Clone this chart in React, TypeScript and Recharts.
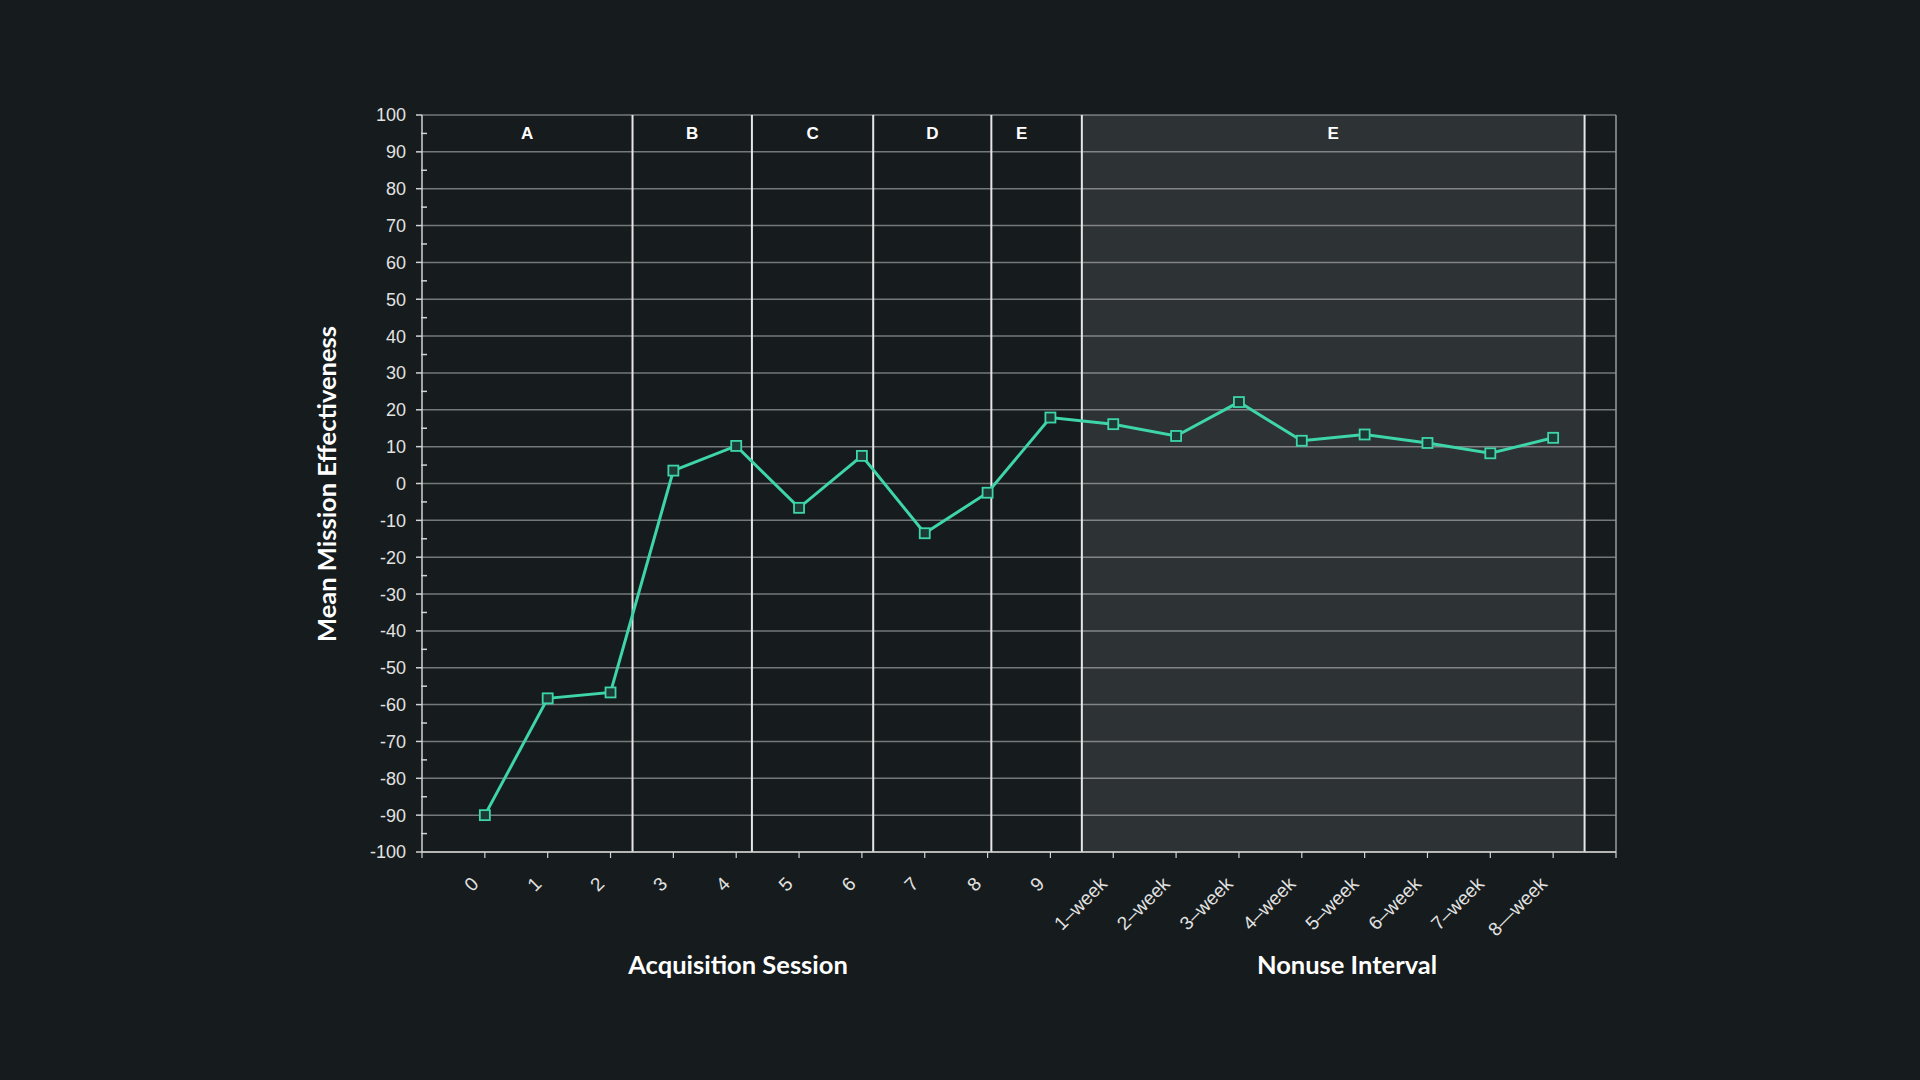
import { LineChart, Line, XAxis, YAxis, CartesianGrid, ReferenceArea, ReferenceLine } from "recharts";

// sessions 0-9, then the nonuse weeks
const categories = ["0", "1", "2", "3", "4", "5", "6", "7", "8", "9", "1–week", "2–week", "3–week", "4–week", "5–week", "6–week", "7–week", "8—week"];
const effectiveness = [-90, -58.3, -56.7, 3.5, 10.2, -6.6, 7.5, -13.5, -2.5, 17.9, 16.1, 12.9, 22.1, 11.6, 13.3, 11, 8.2, 12.4];

// phase labels and the category positions of the dividers between them
const phaseLabels = ["A", "B", "C", "D", "E", "E"];
const phaseBounds = [-1, 2.35, 4.25, 6.18, 8.06, 9.5, 17.5];

const xTicks = [-1, 0, 1, 2, 3, 4, 5, 6, 7, 8, 9, 10, 11, 12, 13, 14, 15, 16, 17, 18];
const yMajor = [-100, -90, -80, -70, -60, -50, -40, -30, -20, -10, 0, 10, 20, 30, 40, 50, 60, 70, 80, 90, 100];
const yMinor = [-95, -85, -75, -65, -55, -45, -35, -25, -15, -5, 5, 15, 25, 35, 45, 55, 65, 75, 85, 95];

const BG = "#161b1d";
const TEAL = "#3dd5a9";
const AXIS = "#d2d2d2";
const TICK_FONT = '"Liberation Sans", Arial, sans-serif';
const TITLE_FONT = 'Lato, "Noto Sans", sans-serif';

const rows = categories.map((label, i) => ({ idx: i, label, value: effectiveness[i] }));

function XTick(props: any) {
  const { x, y, payload } = props;
  const label = categories[payload.value];
  if (label === undefined) return null;
  const ax = x - 5;
  const ay = y + 25;
  return (
    <text x={ax} y={ay} textAnchor="end" fill="#e2e2e2" fontSize={19} fontFamily={TICK_FONT} transform={`rotate(-45, ${ax}, ${ay})`}>
      {label}
    </text>
  );
}

function YTick(props: any) {
  const { x, y, payload } = props;
  const axisX = x + 16;
  const major = payload.value % 10 === 0;
  if (!major) return <line x1={axisX - 1} x2={axisX + 5} y1={y} y2={y} stroke={AXIS} strokeWidth={1.5} />;
  return (
    <g>
      <line x1={axisX - 6} x2={axisX} y1={y} y2={y} stroke={AXIS} strokeWidth={1.5} />
      <text x={x} y={y} dy="0.36em" textAnchor="end" fill="#e2e2e2" fontSize={18} fontFamily={TICK_FONT}>
        {payload.value}
      </text>
    </g>
  );
}

function SquareDot(props: any) {
  const { cx, cy, index } = props;
  if (cx == null || cy == null) return null;
  return <rect key={index} x={cx - 5} y={cy - 5} width={10} height={10} fill="#1d3a34" stroke={TEAL} strokeWidth={1.8} />;
}

const titleStyle: React.CSSProperties = {
  position: "absolute",
  fontFamily: TITLE_FONT,
  fontWeight: 700,
  fontSize: 25.5,
  color: "#ffffff",
  whiteSpace: "nowrap",
  transform: "translate(-50%, -50%)",
};

export default function App() {
  return (
    <div style={{ position: "absolute", left: 0, top: 0, width: 1920, height: 1080, background: BG, overflow: "hidden" }}>
      <LineChart width={1920} height={1080} data={rows} margin={{ top: 115, right: 304, bottom: 168, left: 362 }}>
        <CartesianGrid vertical={false} horizontalValues={yMajor} stroke="#73787a" strokeWidth={1.5} />
        {phaseLabels.map((p, i) => (
          <ReferenceArea
            key={`area-${i}`}
            x1={phaseBounds[i]}
            x2={phaseBounds[i + 1]}
            y1={-100}
            y2={100}
            fill={i === phaseLabels.length - 1 ? "#ffffff" : "none"}
            fillOpacity={i === phaseLabels.length - 1 ? 0.1 : 0}
            stroke="none"
            label={{
              value: p,
              position: "insideTop",
              offset: 12,
              dx: i === 4 ? -15 : 0,
              fill: "#ffffff",
              fontSize: 17,
              fontWeight: 700,
              fontFamily: TICK_FONT,
            }}
          />
        ))}
        {phaseBounds.slice(1).map((b) => (
          <ReferenceLine key={`div-${b}`} x={b} stroke="#e6e6e6" strokeWidth={2} />
        ))}
        <ReferenceLine x={18} stroke="#9a9d9f" strokeWidth={1.5} />
        <XAxis
          dataKey="idx"
          type="number"
          domain={[-1, 18]}
          ticks={xTicks}
          interval={0}
          allowDataOverflow
          height={60}
          tickSize={6}
          tickMargin={2}
          axisLine={{ stroke: AXIS, strokeWidth: 1.5 }}
          tickLine={{ stroke: AXIS, strokeWidth: 1.2 }}
          tick={<XTick />}
        />
        <YAxis
          type="number"
          domain={[-100, 100]}
          ticks={[...yMajor, ...yMinor].sort((a, b) => a - b)}
          interval={0}
          width={60}
          tickSize={6}
          tickMargin={10}
          axisLine={{ stroke: AXIS, strokeWidth: 1.5 }}
          tickLine={false}
          tick={<YTick />}
        />
        <Line
          type="linear"
          dataKey="value"
          stroke={TEAL}
          strokeWidth={3}
          dot={<SquareDot />}
          activeDot={false}
          isAnimationActive={false}
        />
      </LineChart>
      <div style={{ ...titleStyle, left: 326, top: 484, transform: "translate(-50%, -50%) rotate(-90deg)" }}>Mean Mission Effectiveness</div>
      <div style={{ ...titleStyle, left: 738, top: 964 }}>Acquisition Session</div>
      <div style={{ ...titleStyle, left: 1347, top: 964 }}>Nonuse Interval</div>
    </div>
  );
}
